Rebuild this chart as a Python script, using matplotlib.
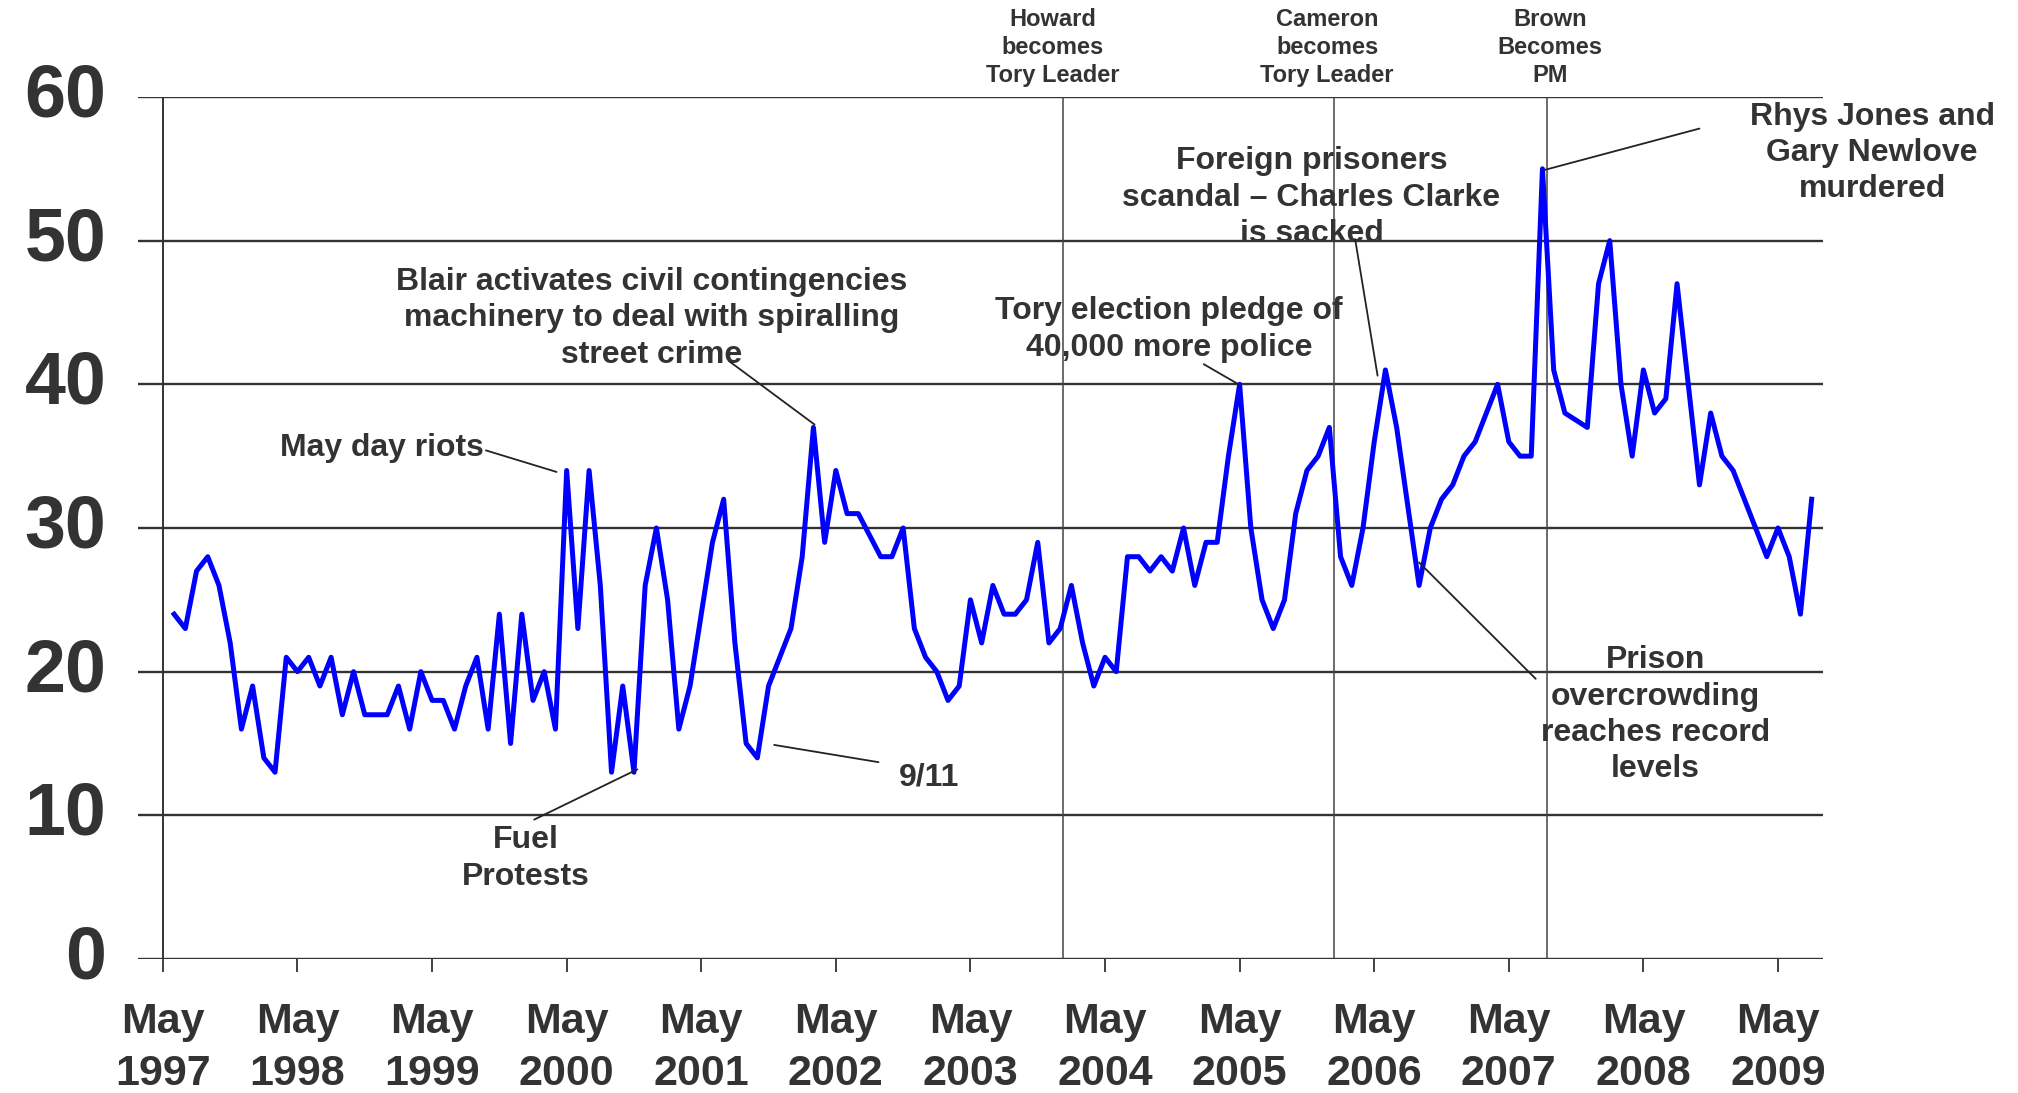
import matplotlib.pyplot as plt
import numpy as np

plt.rcParams['font.family'] = ['Liberation Sans', 'DejaVu Sans']
plt.rcParams['font.weight'] = 'bold'

# monthly values, Jun 1997 .. Aug 2009
values = [24, 23, 27, 28, 26, 22, 16,
          19, 14, 13, 21, 20, 21, 19, 21, 17, 20, 17, 17,
          17, 19, 16, 20, 18, 18, 16, 19, 21, 16, 24, 15,
          24, 18, 20, 16, 34, 23, 34, 26, 13, 19, 13, 26,
          30, 25, 16, 19, 24, 29, 32, 22, 15, 14, 19, 21,
          23, 28, 37, 29, 34, 31, 31, 29.5, 28, 28, 30, 23,
          21, 20, 18, 19, 25, 22, 26, 24, 24, 25, 29, 22,
          23, 26, 22, 19, 21, 20, 28, 28, 27, 28, 27, 30,
          26, 29, 29, 35, 40, 30, 25, 23, 25, 31, 34, 35,
          37, 28, 26, 30, 36, 41, 37, 31.5, 26, 30, 32, 33,
          35, 36, 38, 40, 36, 35, 35, 55, 41, 38, 37.5, 37,
          47, 50, 40, 35, 41, 38, 39, 47, 40, 33, 38, 35,
          34, 32, 30, 28, 30, 28, 24, 32]
months = np.arange(1, len(values) + 1)   # months after May 1997

tick_years = list(range(1997, 2010))
tick_months = [12 * i for i in range(len(tick_years))]
tick_labels = [f"May\n{y}" for y in tick_years]
y_ticks = [0, 10, 20, 30, 40, 50, 60]

event_months = [80.25, 104.45, 123.4]
event_text_x = [79.35, 103.8, 123.7]
event_labels = ["Howard\nbecomes\nTory Leader",
                "Cameron\nbecomes\nTory Leader",
                "Brown\nBecomes\nPM"]

TXT = '#333333'

fig = plt.figure(figsize=(20.18, 10.93), dpi=100)
ax = fig.add_axes([0.0686, 0.1226, 0.8347, 0.7887])
ax.set_xlim(-2.18, 148.0)
ax.set_ylim(0, 60)
for s in ax.spines.values():
    s.set_visible(False)

for y in y_ticks:
    ax.axhline(y, color=TXT, lw=1.7, zorder=1)
ax.axvline(0, color=TXT, lw=1.4, zorder=1)

for m, tx, lab in zip(event_months, event_text_x, event_labels):
    ax.axvline(m, color='#444444', lw=1.1, zorder=1)
    ax.text(tx, 63.45, lab, ha='center', va='center', fontsize=17,
            color=TXT, linespacing=1.27, clip_on=False)

ax.plot(months, values, color='#0000ff', lw=3.6, zorder=3)

ax.set_yticks(y_ticks)
ax.set_yticklabels([str(v) for v in y_ticks], fontsize=53, color=TXT, va='center')
ax.tick_params(axis='y', length=0, pad=23)
ax.set_xticks(tick_months)
ax.set_xticklabels(tick_labels, fontsize=31, color=TXT, linespacing=1.37)
ax.tick_params(axis='x', direction='out', length=9, width=1.3, color=TXT, pad=22)


def note(text, tx, ty, p1, p2, ha='center'):
    ax.text(tx, ty, text, ha=ha, va='center', fontsize=23, color=TXT,
            linespacing=1.28, clip_on=False, zorder=4)
    ax.annotate("", xy=p2, xytext=p1,
                arrowprops=dict(arrowstyle='-', color='#222222', lw=1.3,
                                shrinkA=0, shrinkB=0), zorder=4)


note("May day riots", 28.6, 35.6, (28.8, 35.4), (35.1, 33.9), ha='right')
note("Fuel\nProtests", 32.4, 7.0, (33.1, 9.7), (42.3, 13.2))
note("Blair activates civil contingencies\nmachinery to deal with spiralling\nstreet crime",
     43.6, 44.6, (50.5, 41.6), (58.1, 37.2))
note("9/11", 68.3, 12.6, (54.5, 14.9), (63.8, 13.7))
note("Tory election pledge of\n40,000 more police", 89.7, 43.8, (92.8, 41.4), (95.9, 40.0))
note("Foreign prisoners\nscandal \u2013 Charles Clarke\nis sacked", 102.4, 53.0,
     (106.3, 50.1), (108.3, 40.6))
note("Prison\novercrowding\nreaches record\nlevels", 133.1, 17.0, (112.0, 27.6), (122.4, 19.5))
note("Rhys Jones and\nGary Newlove\nmurdered", 152.4, 56.1, (137.0, 57.8), (123.1, 54.9))

fig.savefig('out.png', dpi=100)
